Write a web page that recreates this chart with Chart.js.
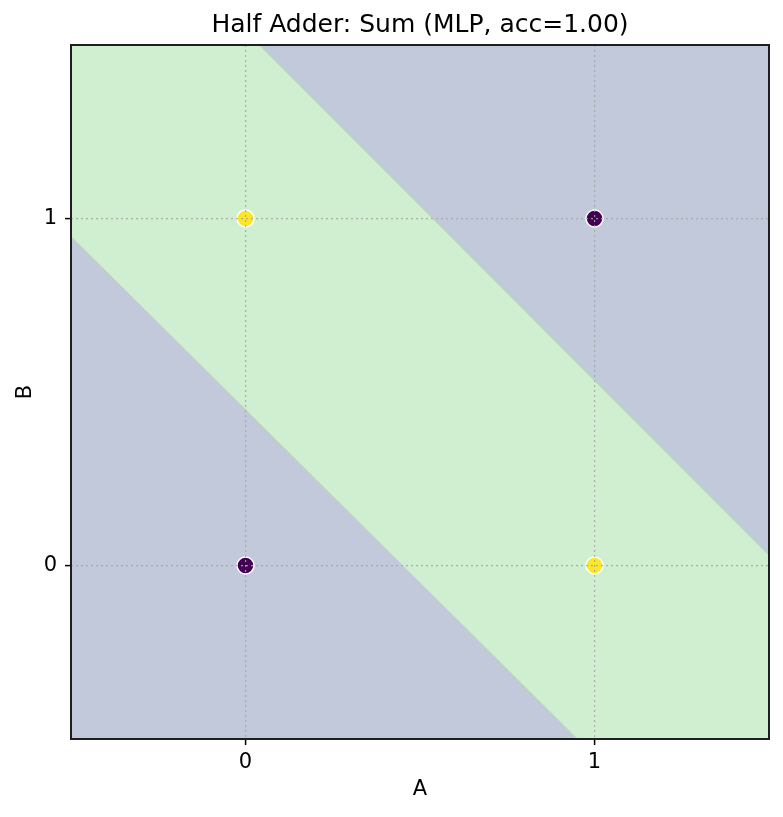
<!DOCTYPE html>
<html>
<head>
<meta charset="utf-8">
<script src="https://cdn.jsdelivr.net/npm/chart.js@4.4.1/dist/chart.umd.min.js"></script>
<style>
  html, body { margin: 0; padding: 0; background: #ffffff; }
  #wrap { width: 783px; height: 817px; }
</style>
</head>
<body>
<div id="wrap"><canvas id="c" width="783" height="817"></canvas></div>
<script>
// ---- data ----
const pointA = [0, 0, 1, 1];
const pointB = [0, 1, 0, 1];
const sumClass = [0, 1, 1, 0];
const tickValues = [0, 1];
const tickLabels = ['0', '1'];
const axisRange = [-0.5, 1.5];
// predicted "sum = 1" band (vertices of the region in data units)
const bandA = [-0.5, -0.5, 0.04, 1.5, 1.5, 0.951, -0.5];
const bandB = [0.948, 1.5, 1.5, 0.029, -0.5, -0.5, 0.948];
// predicted "sum = 0" background (whole domain)
const domainA = [-0.5, -0.5, 1.5, 1.5, -0.5];
const domainB = [-0.5, 1.5, 1.5, -0.5, -0.5];

const classColors = ['#440154', '#fde725'];
const FONT = 'DejaVu Sans';

const toPts = (xs, ys) => xs.map((x, i) => ({ x: x, y: ys[i] }));

const frame = {
  id: 'frame',
  afterDraw(chart) {
    const { ctx, chartArea: a } = chart;
    ctx.save();
    ctx.strokeStyle = '#1e1e1e';
    ctx.lineWidth = 2;
    ctx.strokeRect(a.left, a.top, a.right - a.left, a.bottom - a.top);
    ctx.restore();
  }
};

const axisCommon = {
  type: 'linear',
  min: axisRange[0],
  max: axisRange[1],
  z: 1,
  afterBuildTicks(scale) { scale.ticks = tickValues.map(v => ({ value: v })); },
  ticks: {
    color: '#000000',
    font: { family: FONT, size: 21 },
    callback: (v) => tickLabels[tickValues.indexOf(v)]
  },
  grid: {
    z: 1,
    color: 'rgba(165,165,165,0.9)',
    lineWidth: 1.2,
    tickLength: 6,
    tickColor: '#000000',
    tickWidth: 1.5,
    drawOnChartArea: true
  },
  border: { display: false, dash: [2, 3] }
};

new Chart(document.getElementById('c'), {
  type: 'scatter',
  data: {
    datasets: [
      {
        label: 'samples',
        data: toPts(pointA, pointB),
        pointRadius: 8.5,
        pointHoverRadius: 8.5,
        pointBackgroundColor: sumClass.map(c => classColors[c]),
        pointBorderColor: '#ffffff',
        pointBorderWidth: 1.5,
        showLine: false,
        order: 0
      },
      {
        label: 'band',
        data: toPts(bandA, bandB),
        showLine: true,
        fill: 'shape',
        backgroundColor: '#d0eed0',
        borderColor: '#b4dcb4',
        borderWidth: 1,
        pointRadius: 0,
        tension: 0,
        order: 1
      },
      {
        label: 'domain',
        data: toPts(domainA, domainB),
        showLine: true,
        fill: 'shape',
        backgroundColor: '#c2c9db',
        borderColor: '#c2c9db',
        borderWidth: 0,
        pointRadius: 0,
        tension: 0,
        order: 2
      }
    ]
  },
  options: {
    responsive: false,
    animation: false,
    devicePixelRatio: 1,
    layout: { padding: { left: 0, right: 14, top: 0, bottom: 0 } },
    plugins: {
      legend: { display: false },
      tooltip: { enabled: false },
      title: {
        display: true,
        fullSize: false,
        text: 'Half Adder: Sum (MLP, acc=1.00)',
        color: '#000000',
        font: { family: FONT, size: 25, weight: 'normal' },
        padding: { top: 10, bottom: 5 }
      }
    },
    scales: {
      x: Object.assign({}, axisCommon, {
        position: 'bottom',
        ticks: Object.assign({}, axisCommon.ticks, { padding: 4.5, maxRotation: 0 }),
        grid: Object.assign({}, axisCommon.grid),
        title: {
          display: true, text: 'A', color: '#000000',
          font: { family: FONT, size: 21 },
          padding: { top: 0, bottom: 14.4 }
        },
        afterFit(scale) { scale.height = 78; }
      }),
      y: Object.assign({}, axisCommon, {
        position: 'left',
        ticks: Object.assign({}, axisCommon.ticks, { padding: 8 }),
        grid: Object.assign({}, axisCommon.grid),
        title: {
          display: true, text: 'B', color: '#000000',
          font: { family: FONT, size: 21 },
          padding: { top: 13, bottom: 0 }
        },
        afterFit(scale) { scale.width = 71; }
      })
    }
  },
  plugins: [frame]
});
</script>
</body>
</html>
